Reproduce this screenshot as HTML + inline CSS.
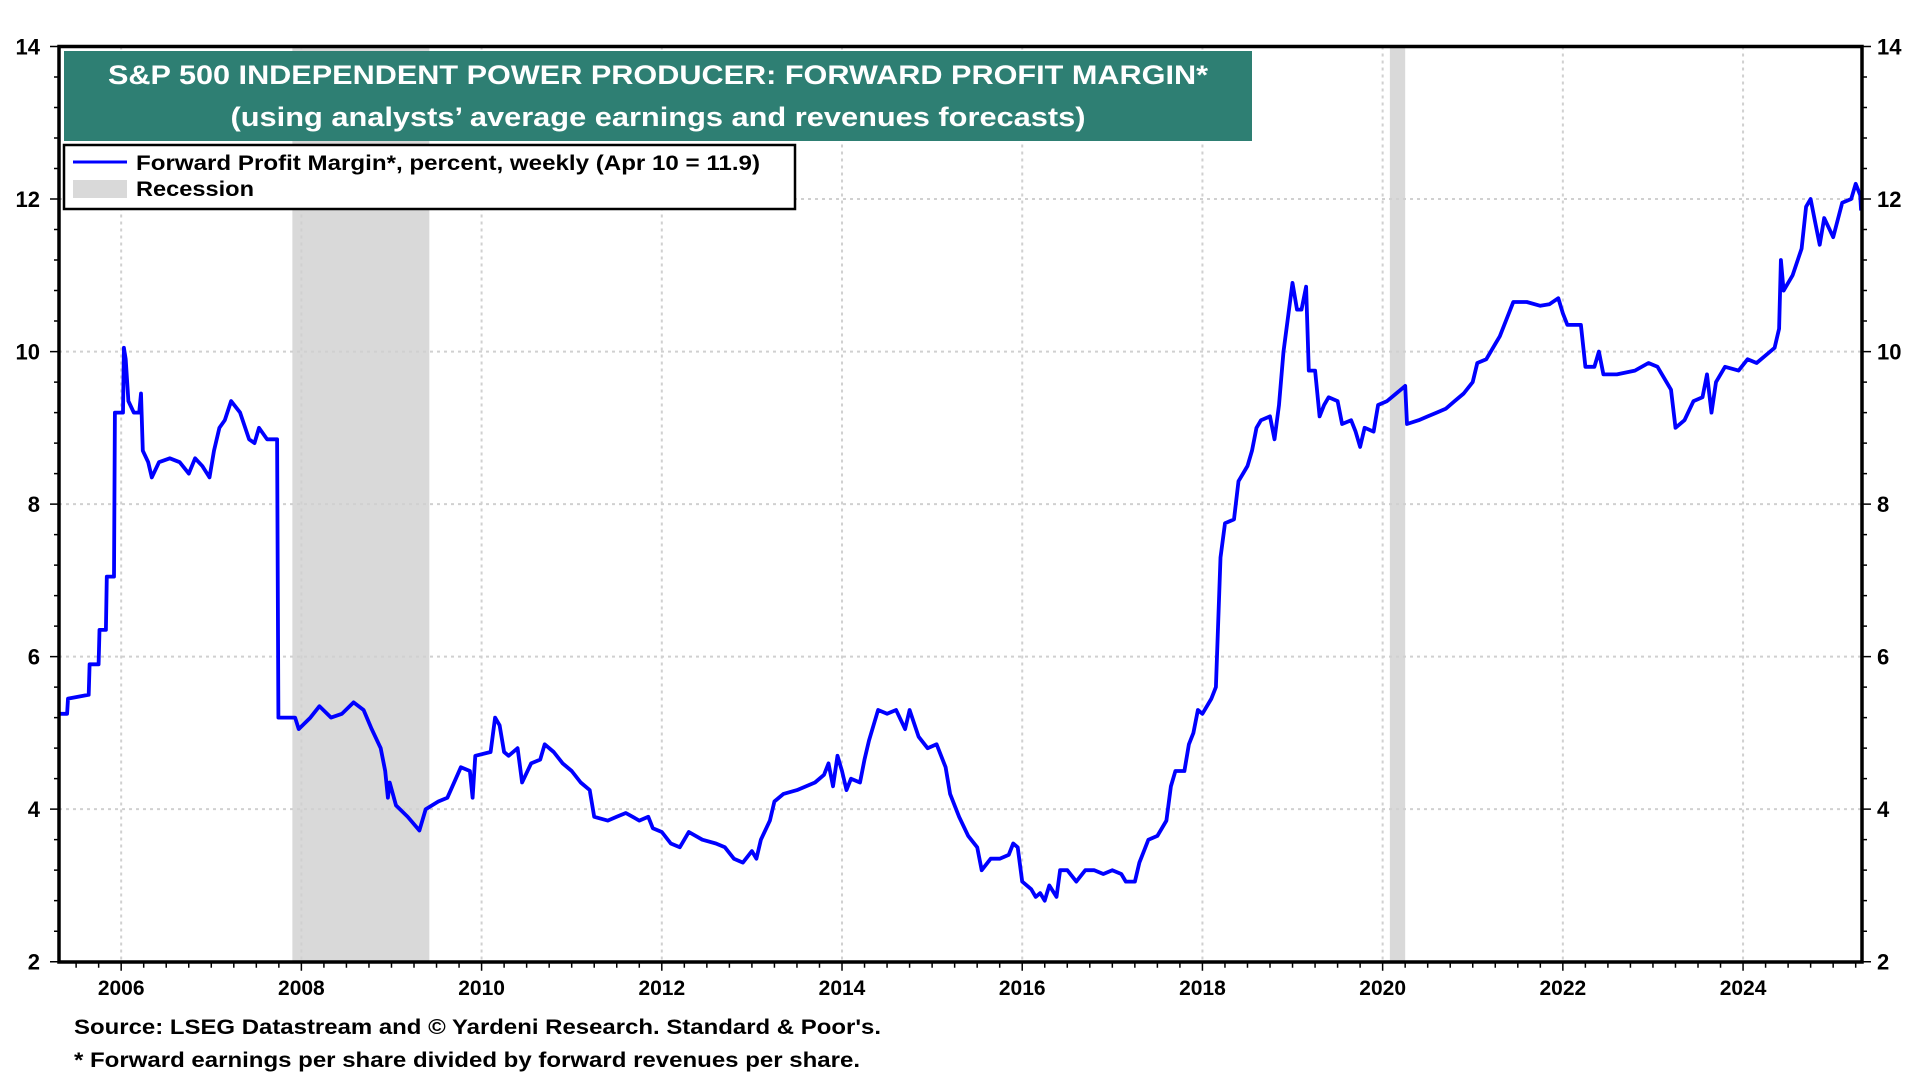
<!DOCTYPE html>
<html><head><meta charset="utf-8"><style>
html,body{margin:0;padding:0;background:#fff;}
svg{display:block;font-family:"Liberation Sans",Arial,sans-serif;font-weight:bold;}
</style></head><body>
<svg id="chart" width="1920" height="1080" viewBox="0 0 1920 1080" xmlns="http://www.w3.org/2000/svg">
<g id="rec"></g>
<g id="grid"></g>
<g id="ticks"></g>
<path id="line" fill="none" stroke="#0000ff" stroke-width="3.8" stroke-linejoin="round"/>
<rect x="59" y="46.5" width="1803" height="915.5" fill="none" stroke="#000" stroke-width="3.5"/>
<g>
<rect x="64" y="51" width="1188" height="90" fill="#2e7f73"/>
<text x="658" y="84" fill="#fff" font-size="27" text-anchor="middle" textLength="1100" lengthAdjust="spacingAndGlyphs">S&amp;P 500 INDEPENDENT POWER PRODUCER: FORWARD PROFIT MARGIN*</text>
<text x="658" y="126" fill="#fff" font-size="27" text-anchor="middle" textLength="855" lengthAdjust="spacingAndGlyphs">(using analysts’ average earnings and revenues forecasts)</text>
</g>
<g>
<rect x="64" y="145" width="731" height="64" fill="#fff" stroke="#000" stroke-width="2.5"/>
<line x1="73" y1="162" x2="127" y2="162" stroke="#0000ff" stroke-width="3"/>
<text x="136" y="170" font-size="21" textLength="624" lengthAdjust="spacingAndGlyphs">Forward Profit Margin*, percent, weekly (Apr 10 = 11.9)</text>
<rect x="73" y="180" width="54" height="18" fill="#d9d9d9"/>
<text x="136" y="196" font-size="21" textLength="118" lengthAdjust="spacingAndGlyphs">Recession</text>
</g>
<g id="labels"></g>
<text x="74" y="1034" font-size="21" textLength="807" lengthAdjust="spacingAndGlyphs">Source: LSEG Datastream and © Yardeni Research. Standard &amp; Poor's.</text>
<text x="74" y="1067" font-size="21" textLength="786" lengthAdjust="spacingAndGlyphs">* Forward earnings per share divided by forward revenues per share.</text>
</svg>
<script>
const years = [2005.31,2005.40,2005.41,2005.5,2005.64,2005.65,2005.75,2005.76,2005.83,2005.84,2005.92,2005.93,2006.02,2006.03,2006.05,2006.08,2006.14,2006.2,2006.22,2006.24,2006.3,2006.34,2006.42,2006.54,2006.65,2006.75,2006.82,2006.9,2006.98,2007.03,2007.09,2007.15,2007.22,2007.32,2007.42,2007.48,2007.53,2007.62,2007.73,2007.745,2007.93,2007.97,2008.1,2008.2,2008.33,2008.45,2008.58,2008.69,2008.78,2008.88,2008.93,2008.96,2008.98,2009.05,2009.18,2009.31,2009.38,2009.52,2009.62,2009.77,2009.87,2009.9,2009.93,2010.1,2010.15,2010.2,2010.25,2010.3,2010.4,2010.45,2010.55,2010.65,2010.7,2010.8,2010.9,2011.0,2011.1,2011.2,2011.25,2011.4,2011.5,2011.6,2011.75,2011.85,2011.9,2012.0,2012.1,2012.2,2012.3,2012.45,2012.6,2012.7,2012.8,2012.9,2013.0,2013.05,2013.1,2013.2,2013.25,2013.35,2013.5,2013.7,2013.8,2013.85,2013.9,2013.95,2014.0,2014.05,2014.1,2014.2,2014.25,2014.3,2014.4,2014.5,2014.6,2014.7,2014.75,2014.85,2014.95,2015.05,2015.15,2015.2,2015.3,2015.4,2015.5,2015.55,2015.65,2015.75,2015.85,2015.9,2015.95,2016.0,2016.1,2016.15,2016.2,2016.25,2016.3,2016.38,2016.42,2016.5,2016.6,2016.7,2016.8,2016.9,2017.0,2017.1,2017.15,2017.25,2017.3,2017.4,2017.5,2017.6,2017.65,2017.7,2017.8,2017.85,2017.9,2017.95,2018.0,2018.1,2018.15,2018.2,2018.25,2018.35,2018.4,2018.45,2018.5,2018.55,2018.6,2018.65,2018.75,2018.8,2018.85,2018.9,2018.95,2019.0,2019.05,2019.1,2019.15,2019.18,2019.25,2019.3,2019.35,2019.4,2019.5,2019.55,2019.65,2019.7,2019.75,2019.8,2019.9,2019.95,2020.05,2020.15,2020.25,2020.27,2020.4,2020.5,2020.6,2020.7,2020.8,2020.9,2021.0,2021.05,2021.15,2021.25,2021.3,2021.4,2021.45,2021.6,2021.75,2021.85,2021.95,2022.0,2022.05,2022.2,2022.25,2022.35,2022.4,2022.45,2022.6,2022.8,2022.95,2023.05,2023.2,2023.25,2023.35,2023.45,2023.55,2023.6,2023.65,2023.7,2023.8,2023.95,2024.05,2024.15,2024.25,2024.35,2024.4,2024.42,2024.45,2024.55,2024.65,2024.7,2024.75,2024.8,2024.85,2024.9,2025.0,2025.1,2025.2,2025.25,2025.3,2025.31];
const margins = [5.25,5.25,5.45,5.47,5.5,5.9,5.9,6.35,6.35,7.05,7.05,9.2,9.2,10.05,9.9,9.35,9.2,9.2,9.45,8.7,8.55,8.35,8.55,8.6,8.55,8.4,8.6,8.5,8.35,8.7,9.0,9.1,9.35,9.2,8.85,8.8,9.0,8.85,8.85,5.2,5.2,5.05,5.2,5.35,5.2,5.25,5.4,5.3,5.05,4.8,4.5,4.15,4.35,4.05,3.9,3.72,4.0,4.1,4.15,4.55,4.5,4.15,4.7,4.75,5.2,5.1,4.75,4.7,4.8,4.35,4.6,4.65,4.85,4.75,4.6,4.5,4.35,4.25,3.9,3.85,3.9,3.95,3.85,3.9,3.75,3.7,3.55,3.5,3.7,3.6,3.55,3.5,3.35,3.3,3.45,3.35,3.6,3.85,4.1,4.2,4.25,4.35,4.45,4.6,4.3,4.7,4.5,4.25,4.4,4.35,4.65,4.9,5.3,5.25,5.3,5.05,5.3,4.95,4.8,4.85,4.55,4.2,3.9,3.65,3.5,3.2,3.35,3.35,3.4,3.55,3.5,3.05,2.95,2.85,2.9,2.8,3.0,2.85,3.2,3.2,3.05,3.2,3.2,3.15,3.2,3.15,3.05,3.05,3.3,3.6,3.65,3.85,4.3,4.5,4.5,4.85,5.0,5.3,5.25,5.45,5.6,7.3,7.75,7.8,8.3,8.4,8.5,8.7,9.0,9.1,9.15,8.85,9.3,10.0,10.45,10.9,10.55,10.55,10.85,9.75,9.75,9.15,9.3,9.4,9.35,9.05,9.1,8.95,8.75,9.0,8.95,9.3,9.35,9.45,9.55,9.05,9.1,9.15,9.2,9.25,9.35,9.45,9.6,9.85,9.9,10.1,10.2,10.5,10.65,10.65,10.6,10.62,10.7,10.5,10.35,10.35,9.8,9.8,10.0,9.7,9.7,9.75,9.85,9.8,9.5,9.0,9.1,9.35,9.4,9.7,9.2,9.6,9.8,9.75,9.9,9.85,9.95,10.05,10.3,11.2,10.8,11.0,11.35,11.9,12.0,11.7,11.4,11.75,11.5,11.95,12.0,12.2,12.05,11.85];
const recStart = [2007.9, 2020.08];
const recEnd = [2009.42, 2020.25];
const xTickYears = [2006,2008,2010,2012,2014,2016,2018,2020,2022,2024];
const yTickValues = [2,4,6,8,10,12,14];

const X0=59, X1=1862, XMIN=2005.31, XMAX=2025.32;
const Y0=961.7, Y1=46.5, YMIN=2, YMAX=14;
const xs = t => X0 + (t-XMIN)/(XMAX-XMIN)*(X1-X0);
const ys = v => Y0 - (v-YMIN)/(YMAX-YMIN)*(Y0-Y1);
const NS="http://www.w3.org/2000/svg";
function mk(tag, parent){const e=document.createElementNS(NS,tag);document.getElementById(parent).appendChild(e);return e;}

for(let i=0;i<recStart.length;i++){
  const r=mk('rect','rec');
  
  
  r.setAttribute('x',xs(recStart[i]));r.setAttribute('y',Y1);
  r.setAttribute('width',xs(recEnd[i])-xs(recStart[i]));r.setAttribute('height',Y0-Y1);
  r.setAttribute('fill','#d9d9d9');
}
xTickYears.forEach(yr=>{
  const l=mk('line','grid');
  
  
  l.setAttribute('x1',xs(yr));l.setAttribute('x2',xs(yr));l.setAttribute('y1',Y1);l.setAttribute('y2',Y0);
  l.setAttribute('stroke','#d0d0d0');l.setAttribute('stroke-width','2');l.setAttribute('stroke-dasharray','3 4');
  const t=mk('text','labels');
  
  
  t.setAttribute('x',xs(yr));t.setAttribute('y',995);t.setAttribute('text-anchor','middle');t.setAttribute('font-size','21');
  t.textContent=yr;
});
yTickValues.forEach(v=>{
  if(v>YMIN && v<YMAX){
    const l=mk('line','grid');
    
    
    l.setAttribute('x1',X0);l.setAttribute('x2',X1);l.setAttribute('y1',ys(v));l.setAttribute('y2',ys(v));
    l.setAttribute('stroke','#d0d0d0');l.setAttribute('stroke-width','2');l.setAttribute('stroke-dasharray','3 4');
  }
  const a=mk('text','labels');
  
  
  a.setAttribute('x',40);a.setAttribute('y',ys(v)+8);a.setAttribute('text-anchor','end');a.setAttribute('font-size','22');
  a.textContent=v;
  const b=mk('text','labels');
  
  
  b.setAttribute('x',1877);b.setAttribute('y',ys(v)+8);b.setAttribute('font-size','22');
  b.textContent=v;
});
let tk='';
for(let v=YMIN; v<=YMAX+0.001; v+=0.4){
  const y=ys(v), major=Math.abs(v-Math.round(v))<0.01 && Math.round(v)%2===0;
  tk+=`M${X0-(major?9:5)} ${y}H${X0}M${X1} ${y}H${X1+(major?9:5)}`;
}
for(let t=2005.5; t<XMAX; t+=0.25){
  const major=Math.abs(t-Math.round(t))<0.01 && Math.round(t)%2===0;
  tk+=`M${xs(t)} ${Y0}V${Y0+(major?9:6)}`;
}
const tp=mk('path','ticks');


tp.setAttribute('d',tk);tp.setAttribute('stroke','#000');tp.setAttribute('stroke-width','1.5');

let d='';
for(let i=0;i<years.length;i++){
  d+=(i?'L':'M')+xs(years[i]).toFixed(1)+' '+ys(margins[i]).toFixed(1);
}
document.getElementById('line').setAttribute('d',d);
</script>
</body></html>
